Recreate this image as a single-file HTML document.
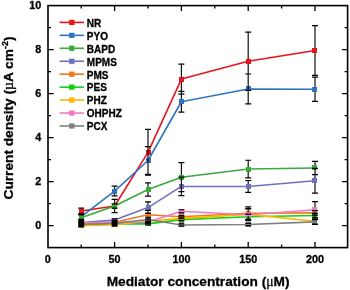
<!DOCTYPE html>
<html><head><meta charset="utf-8"><style>
html,body{margin:0;padding:0;background:#fff;width:350px;height:290px;overflow:hidden}
svg{display:block;will-change:transform}
text{font-family:"Liberation Sans",sans-serif}
</style></head><body>
<svg width="350" height="290" viewBox="0 0 350 290"><polyline points="81.20,211.08 114.60,206.02 148.00,152.34 181.40,79.08 248.20,61.26 315.00,50.48" fill="none" stroke="#e8141c" stroke-width="1.6" stroke-linejoin="round"/>
<g fill="#e8141c"><rect x="79" y="209" width="5" height="5"/><rect x="112" y="204" width="5" height="5"/><rect x="146" y="150" width="5" height="5"/><rect x="179" y="77" width="5" height="5"/><rect x="246" y="59" width="5" height="5"/><rect x="312" y="48" width="5" height="5"/></g>
<polyline points="81.20,216.58 114.60,191.06 148.00,160.48 181.40,101.74 248.20,88.98 315.00,89.20" fill="none" stroke="#2f74c0" stroke-width="1.6" stroke-linejoin="round"/>
<g fill="#2f74c0"><rect x="79" y="214" width="5" height="5"/><rect x="112" y="189" width="5" height="5"/><rect x="146" y="158" width="5" height="5"/><rect x="179" y="99" width="5" height="5"/><rect x="246" y="86" width="5" height="5"/><rect x="312" y="87" width="5" height="5"/></g>
<polyline points="81.20,217.68 114.60,206.02 148.00,189.52 181.40,177.20 248.20,169.06 315.00,167.96" fill="none" stroke="#3aa83a" stroke-width="1.6" stroke-linejoin="round"/>
<g fill="#3aa83a"><rect x="79" y="215" width="5" height="5"/><rect x="112" y="204" width="5" height="5"/><rect x="146" y="187" width="5" height="5"/><rect x="179" y="175" width="5" height="5"/><rect x="246" y="167" width="5" height="5"/><rect x="312" y="165" width="5" height="5"/></g>
<polyline points="81.20,222.52 114.60,220.10 148.00,207.56 181.40,186.44 248.20,186.44 315.00,180.72" fill="none" stroke="#7070c0" stroke-width="1.6" stroke-linejoin="round"/>
<g fill="#7070c0"><rect x="79" y="220" width="5" height="5"/><rect x="112" y="218" width="5" height="5"/><rect x="146" y="205" width="5" height="5"/><rect x="179" y="184" width="5" height="5"/><rect x="246" y="184" width="5" height="5"/><rect x="312" y="178" width="5" height="5"/></g>
<polyline points="81.20,223.84 114.60,222.30 148.00,214.82 181.40,216.80 248.20,213.28 315.00,212.84" fill="none" stroke="#f07820" stroke-width="1.6" stroke-linejoin="round"/>
<g fill="#f07820"><rect x="79" y="221" width="5" height="5"/><rect x="112" y="220" width="5" height="5"/><rect x="146" y="212" width="5" height="5"/><rect x="179" y="214" width="5" height="5"/><rect x="246" y="211" width="5" height="5"/><rect x="312" y="210" width="5" height="5"/></g>
<polyline points="81.20,224.50 114.60,223.84 148.00,223.84 181.40,219.66 248.20,216.80 315.00,215.48" fill="none" stroke="#10d010" stroke-width="1.6" stroke-linejoin="round"/>
<g fill="#10d010"><rect x="79" y="222" width="5" height="5"/><rect x="112" y="221" width="5" height="5"/><rect x="146" y="221" width="5" height="5"/><rect x="179" y="217" width="5" height="5"/><rect x="246" y="214" width="5" height="5"/><rect x="312" y="213" width="5" height="5"/></g>
<polyline points="81.20,225.60 114.60,224.72 148.00,221.20 181.40,218.34 248.20,214.38 315.00,221.20" fill="none" stroke="#ffb800" stroke-width="1.6" stroke-linejoin="round"/>
<g fill="#ffb800"><rect x="79" y="223" width="5" height="5"/><rect x="112" y="222" width="5" height="5"/><rect x="146" y="219" width="5" height="5"/><rect x="179" y="216" width="5" height="5"/><rect x="246" y="212" width="5" height="5"/><rect x="312" y="219" width="5" height="5"/></g>
<polyline points="81.20,222.74 114.60,222.30 148.00,222.08 181.40,211.30 248.20,214.82 315.00,209.76" fill="none" stroke="#f07ac0" stroke-width="1.6" stroke-linejoin="round"/>
<g fill="#f07ac0"><rect x="79" y="220" width="5" height="5"/><rect x="112" y="220" width="5" height="5"/><rect x="146" y="220" width="5" height="5"/><rect x="179" y="209" width="5" height="5"/><rect x="246" y="212" width="5" height="5"/><rect x="312" y="207" width="5" height="5"/></g>
<polyline points="81.20,224.50 114.60,223.40 148.00,219.44 181.40,224.94 248.20,224.50 315.00,221.86" fill="none" stroke="#808080" stroke-width="1.6" stroke-linejoin="round"/>
<g fill="#808080"><rect x="79" y="222" width="5" height="5"/><rect x="112" y="221" width="5" height="5"/><rect x="146" y="217" width="5" height="5"/><rect x="179" y="222" width="5" height="5"/><rect x="246" y="222" width="5" height="5"/><rect x="312" y="219" width="5" height="5"/></g>
<path stroke="#111" stroke-width="1.2" fill="none" d="M81.20 208.22V209M114.60 203.82V204M148.00 129.46V150M148.00 155V175.22M181.40 64.12V77M181.40 82V94.04M248.20 32.22V59M248.20 64V90.30M315.00 25.62V48M315.00 53V75.34M81.20 213.72V214M81.20 219V219.44M114.60 186.22V189M114.60 194V195.90M148.00 146.62V158M148.00 163V174.34M181.40 91.40V99M181.40 104V112.08M248.20 74.02V86M248.20 91V103.94M315.00 77.10V87M315.00 92V101.30M81.20 214.82V215M81.20 220V220.54M114.60 199.42V204M114.60 209V212.62M148.00 182.92V187M148.00 192V196.12M181.40 162.68V175M181.40 180V191.72M248.20 160.26V167M248.20 172V177.86M315.00 161.36V165M315.00 170V174.56M148.00 201.84V205M148.00 210V213.28M181.40 177.20V184M181.40 189V195.68M248.20 180.50V184M248.20 189V192.38M315.00 168.40V178M315.00 183V193.04M148.00 210.42V212M148.00 217V219.22M248.20 206.90V211M248.20 216V219.66M315.00 215V215.04M248.20 219V219.44M248.20 208.66V212M248.20 217V220.10M315.00 218.12V219M315.00 224V224.28M248.20 208.88V212M248.20 217V220.76M315.00 201.62V207M315.00 212V217.90M315.00 224V224.06"/>
<path stroke="#000" stroke-width="1.2" fill="none" d="M78.20 208.22h6M78.20 213.94h6M111.60 203.82h6M111.60 208.22h6M145.00 129.46h6M145.00 175.22h6M178.40 64.12h6M178.40 94.04h6M245.20 32.22h6M245.20 90.30h6M312.00 25.62h6M312.00 75.34h6M78.20 213.72h6M78.20 219.44h6M111.60 186.22h6M111.60 195.90h6M145.00 146.62h6M145.00 174.34h6M178.40 91.40h6M178.40 112.08h6M245.20 74.02h6M245.20 103.94h6M312.00 77.10h6M312.00 101.30h6M78.20 214.82h6M78.20 220.54h6M111.60 199.42h6M111.60 212.62h6M145.00 182.92h6M145.00 196.12h6M178.40 162.68h6M178.40 191.72h6M245.20 160.26h6M245.20 177.86h6M312.00 161.36h6M312.00 174.56h6M78.20 221.20h6M78.20 223.84h6M111.60 218.78h6M111.60 221.42h6M145.00 201.84h6M145.00 213.28h6M178.40 177.20h6M178.40 195.68h6M245.20 180.50h6M245.20 192.38h6M312.00 168.40h6M312.00 193.04h6M78.20 222.52h6M78.20 225.16h6M111.60 220.54h6M111.60 224.06h6M145.00 210.42h6M145.00 219.22h6M178.40 215.70h6M178.40 217.90h6M245.20 206.90h6M245.20 219.66h6M312.00 210.64h6M312.00 215.04h6M78.20 223.18h6M78.20 225.82h6M111.60 222.52h6M111.60 225.16h6M145.00 222.74h6M145.00 224.94h6M178.40 218.56h6M178.40 220.76h6M245.20 214.16h6M245.20 219.44h6M312.00 213.28h6M312.00 217.68h6M78.20 224.28h6M78.20 226.92h6M111.60 223.40h6M111.60 226.04h6M145.00 219.00h6M145.00 223.40h6M178.40 216.14h6M178.40 220.54h6M245.20 208.66h6M245.20 220.10h6M312.00 218.12h6M312.00 224.28h6M78.20 221.42h6M78.20 224.06h6M111.60 220.98h6M111.60 223.62h6M145.00 220.98h6M145.00 223.18h6M178.40 209.76h6M178.40 212.84h6M245.20 208.88h6M245.20 220.76h6M312.00 201.62h6M312.00 217.90h6M78.20 223.18h6M78.20 225.82h6M111.60 221.64h6M111.60 225.16h6M145.00 217.24h6M145.00 221.64h6M178.40 223.84h6M178.40 226.04h6M245.20 223.40h6M245.20 225.60h6M312.00 219.66h6M312.00 224.06h6"/>
<rect x="48.0" y="5.6" width="299.60" height="242.00" fill="none" stroke="#000" stroke-width="1.6"/>
<path d="M81.20 247.6v-3M81.20 5.6v3M114.60 247.6v-5.5M114.60 5.6v5.5M148.00 247.6v-3M148.00 5.6v3M181.40 247.6v-5.5M181.40 5.6v5.5M214.80 247.6v-3M214.80 5.6v3M248.20 247.6v-5.5M248.20 5.6v5.5M281.60 247.6v-3M281.60 5.6v3M315.00 247.6v-5.5M315.00 5.6v5.5M48.0 225.60h5.7M347.6 225.60h-5.7M48.0 203.60h3M347.6 203.60h-3M48.0 181.60h5.7M347.6 181.60h-5.7M48.0 159.60h3M347.6 159.60h-3M48.0 137.60h5.7M347.6 137.60h-5.7M48.0 115.60h3M347.6 115.60h-3M48.0 93.60h5.7M347.6 93.60h-5.7M48.0 71.60h3M347.6 71.60h-3M48.0 49.60h5.7M347.6 49.60h-5.7M48.0 27.60h3M347.6 27.60h-3" stroke="#000" stroke-width="1.3" fill="none"/>
<g font-family="Liberation Sans, sans-serif" font-weight="bold" stroke="#000" stroke-width="0.3" font-size="10.8" fill="#000"><text x="41.2" y="229.30" text-anchor="end">0</text><text x="41.2" y="185.30" text-anchor="end">2</text><text x="41.2" y="141.30" text-anchor="end">4</text><text x="41.2" y="97.30" text-anchor="end">6</text><text x="41.2" y="53.30" text-anchor="end">8</text><text x="41.2" y="9.30" text-anchor="end">10</text><text x="47.80" y="263.1" text-anchor="middle">0</text><text x="114.60" y="263.1" text-anchor="middle">50</text><text x="181.40" y="263.1" text-anchor="middle">100</text><text x="248.20" y="263.1" text-anchor="middle">150</text><text x="315.00" y="263.1" text-anchor="middle">200</text></g>
<text font-family="Liberation Sans, sans-serif" font-weight="bold" stroke="#000" stroke-width="0.3" font-size="13.68" x="198.1" y="285.8" text-anchor="middle">Mediator concentration (<tspan font-family="Liberation Serif, serif" font-weight="normal">&#956;</tspan>M)</text>
<text font-family="Liberation Sans, sans-serif" font-weight="bold" stroke="#000" stroke-width="0.3" font-size="13.7" transform="translate(13.3,118) rotate(-90)" text-anchor="middle">Current density (<tspan font-family="Liberation Serif, serif" font-weight="normal">&#181;</tspan>A cm<tspan font-size="9" dy="-5.4">-2</tspan><tspan dy="5.4">)</tspan></text>
<path d="M59.6 22.40H84" stroke="#e8141c" stroke-width="1.6"/><rect x="69.10" y="19.80" width="5.4" height="5.2" fill="#e8141c"/><text x="86.8" y="26.70" font-family="Liberation Sans, sans-serif" font-weight="bold" stroke="#000" stroke-width="0.3" font-size="10">NR</text><path d="M59.6 35.35H84" stroke="#2f74c0" stroke-width="1.6"/><rect x="69.10" y="32.75" width="5.4" height="5.2" fill="#2f74c0"/><text x="86.8" y="39.65" font-family="Liberation Sans, sans-serif" font-weight="bold" stroke="#000" stroke-width="0.3" font-size="10">PYO</text><path d="M59.6 48.30H84" stroke="#3aa83a" stroke-width="1.6"/><rect x="69.10" y="45.70" width="5.4" height="5.2" fill="#3aa83a"/><text x="86.8" y="52.60" font-family="Liberation Sans, sans-serif" font-weight="bold" stroke="#000" stroke-width="0.3" font-size="10">BAPD</text><path d="M59.6 61.25H84" stroke="#7070c0" stroke-width="1.6"/><rect x="69.10" y="58.65" width="5.4" height="5.2" fill="#7070c0"/><text x="86.8" y="65.55" font-family="Liberation Sans, sans-serif" font-weight="bold" stroke="#000" stroke-width="0.3" font-size="10">MPMS</text><path d="M59.6 74.20H84" stroke="#f07820" stroke-width="1.6"/><rect x="69.10" y="71.60" width="5.4" height="5.2" fill="#f07820"/><text x="86.8" y="78.50" font-family="Liberation Sans, sans-serif" font-weight="bold" stroke="#000" stroke-width="0.3" font-size="10">PMS</text><path d="M59.6 87.15H84" stroke="#10d010" stroke-width="1.6"/><rect x="69.10" y="84.55" width="5.4" height="5.2" fill="#10d010"/><text x="86.8" y="91.45" font-family="Liberation Sans, sans-serif" font-weight="bold" stroke="#000" stroke-width="0.3" font-size="10">PES</text><path d="M59.6 100.10H84" stroke="#ffb800" stroke-width="1.6"/><rect x="69.10" y="97.50" width="5.4" height="5.2" fill="#ffb800"/><text x="86.8" y="104.40" font-family="Liberation Sans, sans-serif" font-weight="bold" stroke="#000" stroke-width="0.3" font-size="10">PHZ</text><path d="M59.6 113.05H84" stroke="#f07ac0" stroke-width="1.6"/><rect x="69.10" y="110.45" width="5.4" height="5.2" fill="#f07ac0"/><text x="86.8" y="117.35" font-family="Liberation Sans, sans-serif" font-weight="bold" stroke="#000" stroke-width="0.3" font-size="10">OHPHZ</text><path d="M59.6 126.00H84" stroke="#808080" stroke-width="1.6"/><rect x="69.10" y="123.40" width="5.4" height="5.2" fill="#808080"/><text x="86.8" y="130.30" font-family="Liberation Sans, sans-serif" font-weight="bold" stroke="#000" stroke-width="0.3" font-size="10">PCX</text></svg>
</body></html>
